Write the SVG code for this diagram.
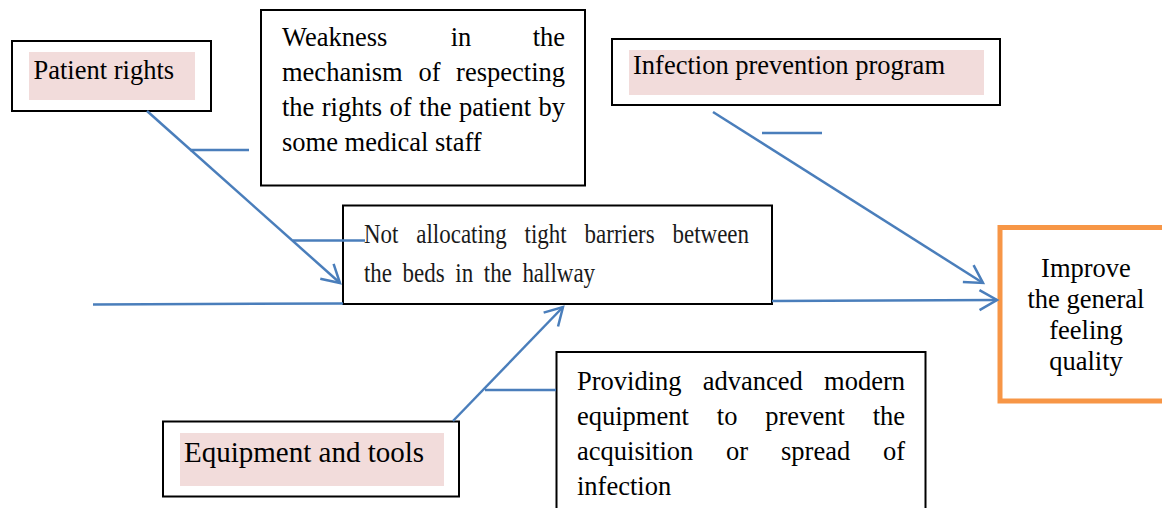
<svg xmlns="http://www.w3.org/2000/svg" width="1162" height="508" viewBox="0 0 1162 508">
  <style>
    .box { fill: #ffffff; stroke: #000000; stroke-width: 2; }
    .hl { fill: #F2DCDB; stroke: none; }
    .goal { fill: #ffffff; stroke: #F79646; stroke-width: 5; }
    .t { font-family: "Liberation Serif", "Times New Roman", serif; font-size: 26.5px; fill: #000000; }
    .tn { font-family: "Liberation Serif", "Times New Roman", serif; font-size: 27px; fill: #1a1a1a; }
    .teq { font-family: "Liberation Serif", "Times New Roman", serif; font-size: 29px; fill: #000000; }
    .c { fill: none; stroke: #4A7EBB; stroke-width: 2.5; }
  </style>
  <defs>
    <marker id="arrow" markerUnits="userSpaceOnUse" markerWidth="44" markerHeight="44" viewBox="-22 -22 44 44" refX="0" refY="0" orient="auto">
      <path d="M-17.5,-10 L0,0 L-17.5,10" fill="none" stroke="#4A7EBB" stroke-width="2.5" stroke-linejoin="miter"/>
    </marker>
  </defs>

  <rect width="1162" height="508" fill="#ffffff"/>

  <g id="node-patient-rights">
    <rect class="box" x="12" y="41" width="199" height="70"/>
    <rect class="hl" x="29" y="52" width="166" height="48"/>
    <text class="t" x="33.5" y="79">Patient rights</text>
  </g>

  <g id="node-weakness">
    <rect class="box" x="261" y="10" width="324" height="175.5"/>
    <text class="t" x="282" y="46">Weakness</text>
    <text class="t" x="450.7" y="46">in</text>
    <text class="t" x="565" y="46" text-anchor="end">the</text>
    <text class="t" x="282" y="81">mechanism</text>
    <text class="t" x="418.4" y="81">of</text>
    <text class="t" x="565" y="81" text-anchor="end">respecting</text>
    <text class="t" x="282" y="116" word-spacing="0.8">the rights of the patient by</text>
    <text class="t" x="282" y="151">some medical staff</text>
  </g>

  <g id="node-not-allocating">
    <rect class="box" x="343" y="205.5" width="429" height="98.5"/>
    <text class="tn" x="364" y="243" textLength="34.4" lengthAdjust="spacingAndGlyphs">Not</text>
    <text class="tn" x="416.3" y="243" textLength="90.5" lengthAdjust="spacingAndGlyphs">allocating</text>
    <text class="tn" x="524.6" y="243" textLength="42.1" lengthAdjust="spacingAndGlyphs">tight</text>
    <text class="tn" x="584.6" y="243" textLength="70.1" lengthAdjust="spacingAndGlyphs">barriers</text>
    <text class="tn" x="672.5" y="243" textLength="76.5" lengthAdjust="spacingAndGlyphs">between</text>
    <text class="tn" x="364" y="282" textLength="28" lengthAdjust="spacingAndGlyphs">the</text>
    <text class="tn" x="402.6" y="282" textLength="42.1" lengthAdjust="spacingAndGlyphs">beds</text>
    <text class="tn" x="455.3" y="282" textLength="17.9" lengthAdjust="spacingAndGlyphs">in</text>
    <text class="tn" x="483.8" y="282" textLength="28" lengthAdjust="spacingAndGlyphs">the</text>
    <text class="tn" x="522.4" y="282" textLength="72.7" lengthAdjust="spacingAndGlyphs">hallway</text>
  </g>

  <g id="node-infection-program">
    <rect class="box" x="612" y="39" width="388" height="66"/>
    <rect class="hl" x="629" y="50" width="355" height="45"/>
    <text class="t" x="633" y="74">Infection prevention program</text>
  </g>

  <g id="node-improve">
    <rect class="goal" x="1000" y="227.5" width="185" height="173.5"/>
    <text class="t" x="1086" y="277" text-anchor="middle">Improve</text>
    <text class="t" x="1086" y="308" text-anchor="middle">the general</text>
    <text class="t" x="1086" y="339" text-anchor="middle">feeling</text>
    <text class="t" x="1086" y="370" text-anchor="middle">quality</text>
  </g>

  <g id="node-providing">
    <rect class="box" x="556.5" y="352" width="369" height="170"/>
    <text class="t" x="577" y="390">Providing</text>
    <text class="t" x="702.7" y="390">advanced</text>
    <text class="t" x="905" y="390" text-anchor="end">modern</text>
    <text class="t" x="577" y="425">equipment</text>
    <text class="t" x="716.8" y="425">to</text>
    <text class="t" x="765.3" y="425">prevent</text>
    <text class="t" x="905" y="425" text-anchor="end">the</text>
    <text class="t" x="577" y="460">acquisition</text>
    <text class="t" x="726.1" y="460">or</text>
    <text class="t" x="781" y="460">spread</text>
    <text class="t" x="905" y="460" text-anchor="end">of</text>
    <text class="t" x="577" y="495">infection</text>
  </g>

  <g id="node-equipment">
    <rect class="box" x="163" y="421.5" width="296" height="75"/>
    <rect class="hl" x="180" y="433" width="264" height="53"/>
    <text class="teq" x="184" y="462">Equipment and tools</text>
  </g>

  <g id="connectors">
    <line class="c" x1="93" y1="304.5" x2="343" y2="303.5"/>
    <line class="c" x1="772" y1="301" x2="997" y2="300" marker-end="url(#arrow)"/>
    <line class="c" x1="147" y1="111" x2="340" y2="283" marker-end="url(#arrow)"/>
    <line class="c" x1="190" y1="150" x2="249" y2="150"/>
    <line class="c" x1="293" y1="240.5" x2="365" y2="240.5"/>
    <line class="c" x1="713" y1="112" x2="983" y2="283" marker-end="url(#arrow)"/>
    <line class="c" x1="762" y1="133" x2="822" y2="133"/>
    <line class="c" x1="453" y1="421" x2="563" y2="307" marker-end="url(#arrow)"/>
    <line class="c" x1="485" y1="390" x2="556" y2="390"/>
  </g>
</svg>
